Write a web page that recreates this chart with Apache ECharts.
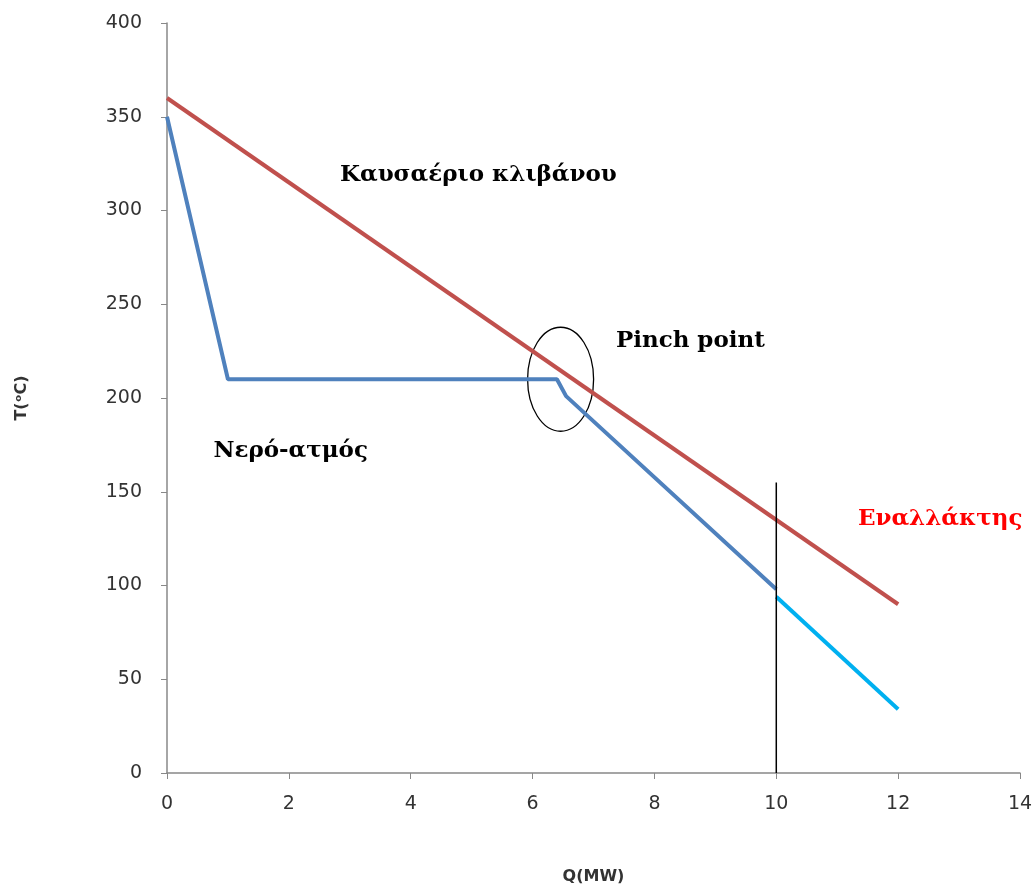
<!DOCTYPE html>
<html>
<head>
<meta charset="utf-8">
<script src="https://cdn.jsdelivr.net/npm/echarts@6/dist/echarts.min.js"></script>
<style>
  html, body { margin: 0; padding: 0; background: #fff; }
  #chart { width: 1035px; height: 887px; }
</style>
</head>
<body>
<div id="chart"></div>
<script>
// καυσαέριο κλιβάνου (κόκκινη)
var gasQ = [0, 12];
var gasT = [360, 90];
// νερό-ατμός (μπλε)
var waterQ = [0, 1, 6.4, 6.55, 10];
var waterT = [350, 210, 210, 201, 98];
// συνέχεια μετά τον εναλλάκτη (γαλάζια)
var exchQ = [10, 12];
var exchT = [94, 34];
// κάθετη γραμμή στο Q=10
var limitQ = [10, 10];
var limitT = [0, 155];

var xTicks = [0, 2, 4, 6, 8, 10, 12, 14];
var yTicks = [0, 50, 100, 150, 200, 250, 300, 350, 400];

function pairs(xs, ys) {
	var out = [];
	for (var i = 0; i < xs.length; i++) out.push([xs[i], ys[i]]);
	return out;
}

var chart = echarts.init(document.getElementById('chart'));

var option = {
	animation: false,
	grid: { left: 167, right: 15, top: 23, bottom: 114, outerBoundsMode: 'none' },
	xAxis: {
		type: 'value',
		min: xTicks[0],
		max: xTicks[xTicks.length - 1],
		interval: 2,
		name: 'Q(MW)',
		nameLocation: 'middle',
		nameGap: 96,
		nameTextStyle: { fontFamily: 'DejaVu Sans', fontWeight: 'bold', fontSize: 16, color: '#333' },
		axisLine: { lineStyle: { color: '#888', width: 1.5 } },
		axisTick: { show: true, length: 6, lineStyle: { color: '#888' } },
		axisLabel: { fontFamily: 'DejaVu Sans', fontSize: 19, color: '#333', margin: 22 },
		splitLine: { show: false }
	},
	yAxis: {
		type: 'value',
		min: yTicks[0],
		max: yTicks[yTicks.length - 1],
		interval: 50,
		name: 'T(\u1D52C)',
		nameLocation: 'middle',
		nameGap: 137,
		nameRotate: 90,
		nameTextStyle: { fontFamily: 'DejaVu Sans', fontWeight: 'bold', fontSize: 16, color: '#333' },
		axisLine: { show: true, lineStyle: { color: '#888', width: 1.5 } },
		axisTick: { show: true, length: 6, lineStyle: { color: '#888' } },
		axisLabel: { fontFamily: 'DejaVu Sans', fontSize: 19, color: '#333', margin: 25 },
		splitLine: { show: false }
	},
	series: [
		{
			name: 'Καυσαέριο κλιβάνου',
			type: 'line',
			data: pairs(gasQ, gasT),
			symbol: 'none',
			lineStyle: { color: '#C0504D', width: 4 }
		},
		{
			name: 'Νερό-ατμός',
			type: 'line',
			data: pairs(waterQ, waterT),
			symbol: 'none',
			lineStyle: { color: '#4F81BD', width: 4 }
		},
		{
			name: 'Εναλλάκτης',
			type: 'line',
			data: pairs(exchQ, exchT),
			symbol: 'none',
			lineStyle: { color: '#00B0F0', width: 4 }
		},
		{
			name: 'limit',
			type: 'line',
			data: pairs(limitQ, limitT),
			symbol: 'none',
			lineStyle: { color: '#000', width: 1.5 }
		}
	]
};

chart.setOption(option);

// σχόλια πάνω στο διάγραμμα
function px(q, t) { return chart.convertToPixel({ gridIndex: 0 }, [q, t]); }
var txtStyle = { fontFamily: 'DejaVu Serif', fontWeight: 'bold', fontSize: 23, fill: '#000' };
function label(q, t, text, color) {
	var p = px(q, t);
	return {
		type: 'text', x: p[0], y: p[1],
		style: Object.assign({}, txtStyle, { text: text, fill: color || '#000', align: 'center', verticalAlign: 'middle' })
	};
}
var c = px(6.46, 210);
chart.setOption({
	graphic: [
		label(5.11, 319, 'Καυσαέριο κλιβάνου'),
		label(8.59, 230.4, 'Pinch point'),
		label(2.03, 171.7, 'Νερό-ατμός'),
		label(12.69, 135.5, 'Εναλλάκτης', '#FF0000'),
		{
			type: 'ellipse',
			shape: { cx: c[0], cy: c[1], rx: 33, ry: 52 },
			style: { fill: 'none', stroke: '#000', lineWidth: 1.3 }
		}
	]
});
</script>
</body>
</html>
